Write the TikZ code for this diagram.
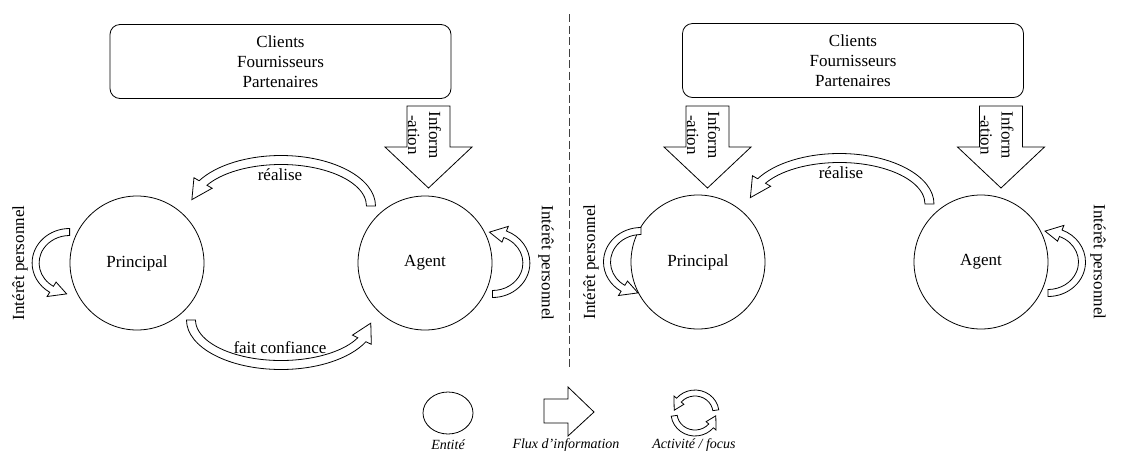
\documentclass[tikz,border=0pt]{standalone}
\usepackage{fontspec}
\setmainfont{Liberation Serif}
\usetikzlibrary{calc,shapes.geometric}

% curved hollow arrow along an ellipse: centre, x radius, y radius,
% start angle, angle where the head begins, end angle, half shaft width, half head width
\newcommand{\bentarrow}[8]{%
  \draw[blockarrow,shift={#1}]
    (#4:{#2+#7} and {#3+#7}) arc[start angle=#4,end angle=#5,x radius=#2+#7,y radius=#3+#7]
    -- (#5:{#2+#8} and {#3+#8}) -- (#6:#2 and #3) -- (#5:{#2-#8} and {#3-#8})
    -- (#5:{#2-#7} and {#3-#7}) arc[start angle=#5,end angle=#4,x radius=#2-#7,y radius=#3-#7]
    -- cycle;}

% downward information arrow under a partner box
\newcommand{\infoarrow}[2]{%
  \draw[blockarrow] (#2-21.5,-106) -- (#2+21.5,-106) -- (#2+21.5,-147) -- (#2+43.5,-147)
    -- (#2,-188) -- (#2-43.5,-147) -- (#2-21.5,-147) -- cycle;
  \node[infotext] (#1) at (#2-4,-135) {Inform\\-ation};}

\begin{document}
\begin{tikzpicture}[x=1pt,y=1pt,
    entity/.style={draw,circle,line width=0.8pt,minimum size=134pt,font=\fontsize{17}{20}\selectfont},
    partners/.style={draw,rounded corners=10pt,line width=0.8pt,minimum width=341pt,minimum height=74pt,align=center,font=\fontsize{17}{20}\selectfont},
    blockarrow/.style={draw,fill=white,line width=0.8pt,line join=miter},
    arrowtext/.style={inner sep=0pt,font=\fontsize{17}{20}\selectfont},
    infotext/.style={rotate=-90,align=center,inner sep=0pt,font=\fontsize{17}{21}\selectfont},
    legendtext/.style={inner sep=0pt,font=\fontsize{14}{16}\selectfont\itshape}]
  \useasboundingbox (0,0) rectangle (1125,-456);

  % left situation
  \node[partners] (boxL) at (280.5,-61.5) {Clients\\Fournisseurs\\Partenaires};
  \node[entity] (PL) at (137,-263) {Principal};
  \node[entity] (AL) at (425,-263) {Agent};
  \infoarrow{infoL}{428.5}
  \bentarrow{($(PL)!0.5!(AL)+(0,57)$)}{90}{46}{0}{150}{172}{4.5}{10.5}
  \node[arrowtext] (realiseL) at (280,-175) {réalise};
  \bentarrow{($(PL)!0.5!(AL)+(0,-57)$)}{90}{45}{180}{334}{356}{4.5}{10.5}
  \node[arrowtext] (confianceL) at (280,-348) {fait confiance};
  \bentarrow{(PL.west)}{34}{31}{90}{238}{265}{3.5}{8.5}
  \node[arrowtext,rotate=90] (interetPL) at (20,-263) {Intérêt personnel};
  \bentarrow{(AL.east)}{34}{31}{-90}{68}{95}{3.5}{8.5}
  \node[arrowtext,rotate=-90] (interetAL) at (546,-263) {Intérêt personnel};

  % separation
  \coordinate (sepTop) at (569,-14);
  \coordinate (sepBot) at (569,-368);
  \draw[black!75,line width=1pt,dash pattern=on 8pt off 3.5pt] (sepTop) -- (sepBot);

  % right situation
  \node[partners] (boxR) at (853,-60.5) {Clients\\Fournisseurs\\Partenaires};
  \node[entity] (PR) at (698,-262) {Principal};
  \node[entity] (AR) at (981,-262) {Agent};
  \infoarrow{infoPR}{707.5}
  \infoarrow{infoAR}{1001}
  \bentarrow{($(PR)!0.5!(AR)+(0,58)$)}{90}{46}{0}{150}{172}{4.5}{10.5}
  \node[arrowtext] (realiseR) at (841,-173) {réalise};
  \bentarrow{(641,-262)}{34}{31}{90}{238}{265}{3.5}{8.5}
  \node[arrowtext,rotate=90] (interetPR) at (591,-262) {Intérêt personnel};
  \bentarrow{(1048,-262)}{34}{31}{-90}{68}{95}{3.5}{8.5}
  \node[arrowtext,rotate=-90] (interetAR) at (1098,-262) {Intérêt personnel};

  % legend
  \node[draw,ellipse,line width=0.8pt,minimum width=50pt,minimum height=42pt] (entite) at (448,-413) {};
  \node[legendtext] at (448,-445) {Entité};
  \draw[blockarrow] (544,-399) -- (568,-399) -- (568,-387) -- (594,-412) -- (568,-436)
    -- (568,-423) -- (544,-423) -- cycle;
  \node[legendtext] at (566,-445) {Flux d'information};
  \bentarrow{(695,-413)}{21}{20}{8}{140}{172}{3}{6.5}
  \bentarrow{(695,-413)}{21}{20}{188}{320}{352}{3}{6.5}
  \node[legendtext] at (694,-445) {Activité / focus};
\end{tikzpicture}
\end{document}
